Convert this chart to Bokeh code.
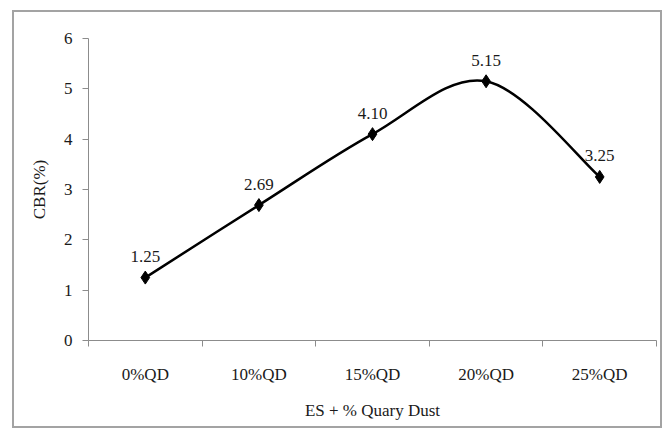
from bokeh.plotting import figure
from bokeh.models import Range1d, LinearAxis, FixedTicker, ColumnDataSource
from bokeh.core.properties import value
from bokeh.embed import file_html
from bokeh.resources import INLINE

# ---- data ----
categories = ["0%QD", "10%QD", "15%QD", "20%QD", "25%QD"]
cbr_values = [1.25, 2.69, 4.10, 5.15, 3.25]
y_ticks = [0, 1, 2, 3, 4, 5, 6]
x_title = "ES + % Quary Dust"
y_title = "CBR(%)"

FONT = "Liberation Serif"
TXT = "#1a1a1a"
AX = "#8c8c8c"

n = len(categories)
xs = [i + 0.5 for i in range(n)]  # category centres on a numeric scale

p = figure(width=650, height=418, output_backend="svg", toolbar_location=None,
           x_range=Range1d(0, n), y_range=Range1d(0, 6),
           x_axis_type=None, y_axis_type=None,
           min_border_left=74, min_border_right=8, min_border_top=26, min_border_bottom=90)
p.styles = {"margin-left": "12px", "margin-top": "10px", "border": "2px solid #a3a3a3"}
p.outline_line_color = None
p.xgrid.visible = False
p.ygrid.visible = False
p.background_fill_color = "white"
p.border_fill_color = "white"

# y axis
ya = LinearAxis(ticker=FixedTicker(ticks=y_ticks), axis_label=y_title)
ya.axis_line_color = AX
ya.major_tick_line_color = AX
ya.major_tick_out = 6
ya.major_tick_in = 0
ya.minor_tick_line_color = None
ya.major_label_text_font = FONT
ya.major_label_text_font_size = "17px"
ya.major_label_text_color = TXT
ya.major_label_standoff = 10
ya.axis_label_text_font = FONT
ya.axis_label_text_font_size = "17px"
ya.axis_label_text_font_style = "normal"
ya.axis_label_text_color = TXT
ya.axis_label_standoff = 12
p.add_layout(ya, "left")

# x axis: boundary ticks
xa1 = LinearAxis(ticker=FixedTicker(ticks=list(range(n + 1))))
xa1.major_label_overrides = {i: "" for i in range(n + 1)}
xa1.axis_line_color = AX
xa1.major_tick_line_color = AX
xa1.major_tick_out = 6
xa1.major_tick_in = 0
xa1.minor_tick_line_color = None
xa1.major_label_standoff = 0
p.add_layout(xa1, "below")

# x axis: category labels
xa2 = LinearAxis(ticker=FixedTicker(ticks=xs), axis_label=x_title)
xa2.major_label_overrides = {x: c for x, c in zip(xs, categories)}
xa2.axis_line_color = None
xa2.major_tick_line_color = None
xa2.major_tick_out = 0
xa2.major_tick_in = 0
xa2.minor_tick_line_color = None
xa2.major_label_text_font = FONT
xa2.major_label_text_font_size = "17px"
xa2.major_label_text_color = TXT
xa2.major_label_standoff = 18
xa2.axis_label_text_font = FONT
xa2.axis_label_text_font_size = "17px"
xa2.axis_label_text_font_style = "normal"
xa2.axis_label_text_color = TXT
xa2.axis_label_standoff = 14
p.add_layout(xa2, "below")

# smoothed line (Catmull-Rom style Bezier segments between data points)
x0, y0, x1, y1, cx0, cy0, cx1, cy1 = [], [], [], [], [], [], [], []
for i in range(n - 1):
    xp = xs[i - 1] if i > 0 else xs[i]
    yp = cbr_values[i - 1] if i > 0 else cbr_values[i]
    xn = xs[i + 2] if i + 2 < n else xs[i + 1]
    yn = cbr_values[i + 2] if i + 2 < n else cbr_values[i + 1]
    x0.append(xs[i]); y0.append(cbr_values[i])
    x1.append(xs[i + 1]); y1.append(cbr_values[i + 1])
    cx0.append(xs[i] + (xs[i + 1] - xp) / 6); cy0.append(cbr_values[i] + (cbr_values[i + 1] - yp) / 6)
    cx1.append(xs[i + 1] - (xn - xs[i]) / 6); cy1.append(cbr_values[i + 1] - (yn - cbr_values[i]) / 6)
p.bezier(x0=x0, y0=y0, x1=x1, y1=y1, cx0=cx0, cy0=cy0, cx1=cx1, cy1=cy1,
         line_color="black", line_width=2.5)

src = ColumnDataSource(dict(x=xs, y=cbr_values, lab=["%.2f" % v for v in cbr_values]))
p.scatter("x", "y", source=src, marker="diamond", size=13, fill_color="black", line_color="black")
p.text("x", "y", text="lab", source=src, text_align="center", text_baseline="alphabetic",
       y_offset=-21, text_font=value(FONT), text_font_size="17px", text_color=TXT)

open("out.html", "w").write(file_html(p, INLINE))
